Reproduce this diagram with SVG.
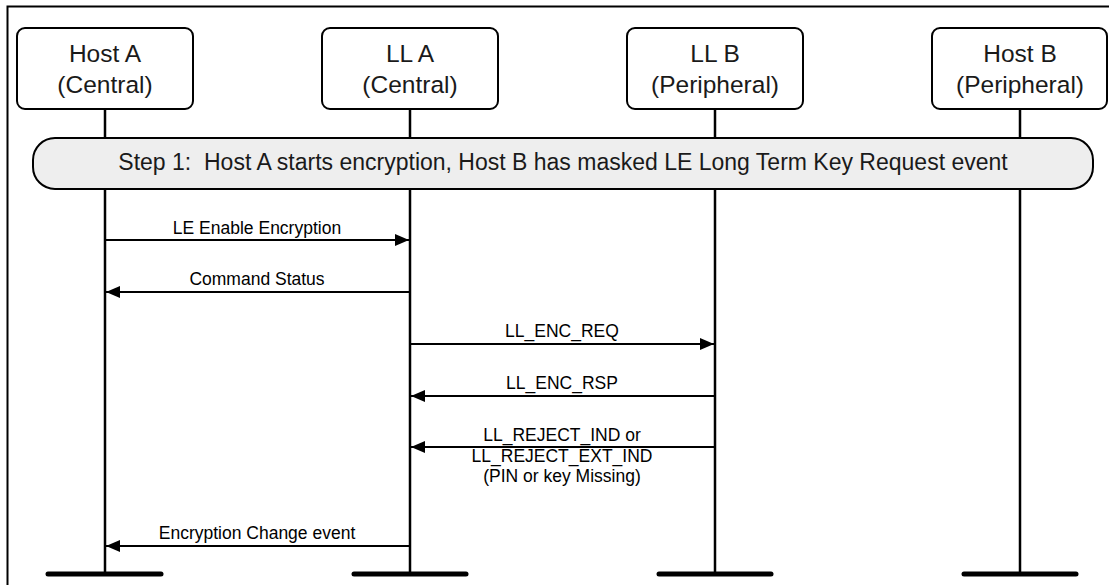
<svg xmlns="http://www.w3.org/2000/svg" width="1109" height="585" viewBox="0 0 1109 585">
<style>
.box{fill:#fff;stroke:#000;stroke-width:2}
.lt{font-family:"Liberation Sans",Arial,sans-serif;font-size:24.5px;fill:#1a1a1a;text-anchor:middle}
.st{font-family:"Liberation Sans",Arial,sans-serif;font-size:23px;fill:#1a1a1a;text-anchor:middle}
.ml{font-family:"Liberation Sans",Arial,sans-serif;font-size:17.5px;fill:#000;text-anchor:middle}
.life{stroke:#000;stroke-width:2.5;fill:none}
.bar{stroke:#000;stroke-width:5;stroke-linecap:round}
.msg{stroke:#000;stroke-width:2;fill:none}
</style>
<defs>
<marker id="ah" viewBox="0 0 14 12" refX="14" refY="6" markerWidth="14" markerHeight="12" markerUnits="userSpaceOnUse" orient="auto">
<path d="M0,0 L14,6 L0,12 Z" fill="#000"/>
</marker>
</defs>
<rect width="1109" height="585" fill="#fff"/>
<path d="M7.5,585 V6.5 H1109" stroke="#000" stroke-width="2" fill="none"/>
<g id="lifelines">
<line class="life" x1="105" y1="109" x2="105" y2="574"/>
<line class="life" x1="410" y1="109" x2="410" y2="574"/>
<line class="life" x1="715" y1="109" x2="715" y2="574"/>
<line class="life" x1="1020" y1="109" x2="1020" y2="574"/>
<line class="bar" x1="48" y1="574" x2="161" y2="574"/>
<line class="bar" x1="354" y1="574" x2="466" y2="574"/>
<line class="bar" x1="659" y1="574" x2="771" y2="574"/>
<line class="bar" x1="964" y1="574" x2="1076" y2="574"/>
</g>
<g id="hostA">
<rect class="box" x="17" y="28" width="176" height="81" rx="8"/>
<text class="lt" x="105" y="62">Host A</text>
<text class="lt" x="105" y="93">(Central)</text>
</g>
<g id="llA">
<rect class="box" x="322" y="28" width="176" height="81" rx="8"/>
<text class="lt" x="410" y="62">LL A</text>
<text class="lt" x="410" y="93">(Central)</text>
</g>
<g id="llB">
<rect class="box" x="627" y="28" width="176" height="81" rx="8"/>
<text class="lt" x="715" y="62">LL B</text>
<text class="lt" x="715" y="93">(Peripheral)</text>
</g>
<g id="hostB">
<rect class="box" x="932" y="28" width="175" height="81" rx="8"/>
<text class="lt" x="1020" y="62">Host B</text>
<text class="lt" x="1020" y="93">(Peripheral)</text>
</g>
<g id="step1">
<rect x="33" y="138" width="1060" height="51" rx="22" fill="#eeeeee" stroke="#000" stroke-width="2"/>
<text class="st" x="563" y="170" xml:space="preserve">Step 1:  Host A starts encryption, Host B has masked LE Long Term Key Request event</text>
</g>
<g id="connectors">
<line class="msg" x1="105" y1="240" x2="409" y2="240" marker-end="url(#ah)"/>
<text class="ml" x="257" y="234">LE Enable Encryption</text>
<line class="msg" x1="410" y1="292" x2="106" y2="292" marker-end="url(#ah)"/>
<text class="ml" x="257" y="285">Command Status</text>
<line class="msg" x1="410" y1="344" x2="714" y2="344" marker-end="url(#ah)"/>
<text class="ml" x="562" y="337">LL_ENC_REQ</text>
<line class="msg" x1="715" y1="396" x2="411" y2="396" marker-end="url(#ah)"/>
<text class="ml" x="562" y="389">LL_ENC_RSP</text>
<line class="msg" x1="715" y1="447" x2="411" y2="447" marker-end="url(#ah)"/>
<text class="ml" x="562" y="441">LL_REJECT_IND or</text>
<text class="ml" x="562" y="462">LL_REJECT_EXT_IND</text>
<text class="ml" x="562" y="482">(PIN or key Missing)</text>
<line class="msg" x1="410" y1="546" x2="106" y2="546" marker-end="url(#ah)"/>
<text class="ml" x="257" y="539">Encryption Change event</text>
</g>
</svg>
